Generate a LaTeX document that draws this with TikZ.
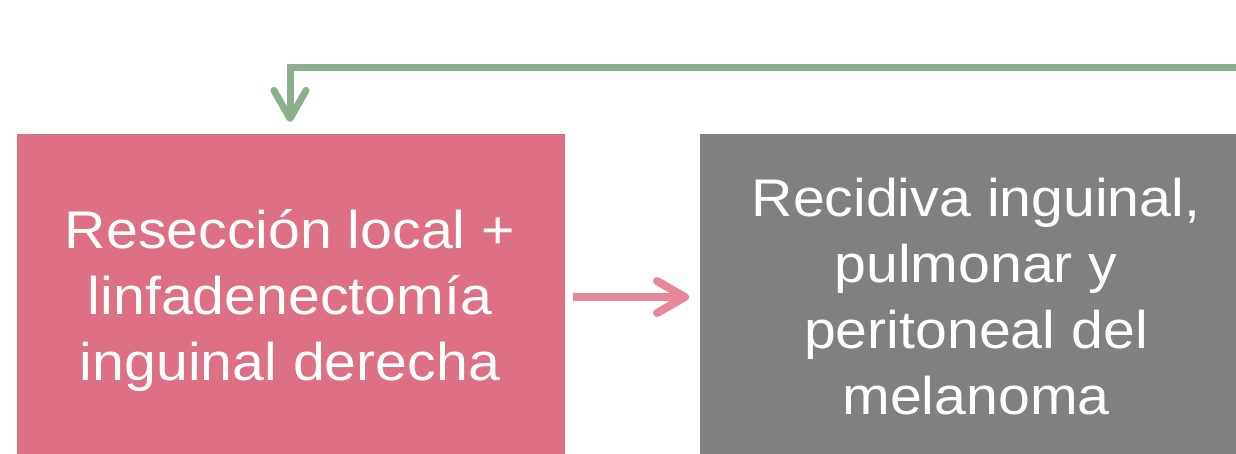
\documentclass[tikz,border=0pt]{standalone}
\usepackage{fontspec}
\setmainfont{Liberation Sans}[FakeStretch=1.08]
\usetikzlibrary{arrows.meta}
\definecolor{pinkbox}{HTML}{DD7084}
\definecolor{pinkarrow}{HTML}{E6889A}
\definecolor{graybox}{HTML}{808080}
\definecolor{greenline}{HTML}{8BAE8C}
\tikzset{
  box/.style={draw=none, rectangle, inner sep=0pt, anchor=north west},
  boxtext/.style={text=white, align=center, inner sep=0pt,
    font=\fontsize{53}{66}\selectfont},
  tipchev/.style={-{Straight Barb[length=28pt,width=32pt,round]}, line cap=butt}
}
\begin{document}
\begin{tikzpicture}[x=1pt,y=-1pt]
\useasboundingbox (0,0) rectangle (1236,453);
\node[box, fill=pinkbox, minimum width=548pt, minimum height=340pt] (pink) at (17,134) {};
\node[box, fill=graybox, minimum width=560pt, minimum height=340pt] (gray) at (700,134) {};
\node[boxtext] (pinktxt) at (290,300) {Resección local +\\linfadenectomía\\inguinal derecha};
\node[boxtext] (graytxt) at (976,297) {Recidiva inguinal,\\pulmonar y\\peritoneal del\\melanoma};
\coordinate (gstart) at (1250,67);
\draw[tipchev, draw=pinkarrow, line width=8pt, shorten <=8pt, shorten >=11pt] (pink.east |- 0,297) -- (gray.west |- 0,297);
\draw[tipchev, draw=greenline, line width=7pt] (gstart) -| ([yshift=12pt]pink.north -| 290,0);
\end{tikzpicture}
\end{document}
